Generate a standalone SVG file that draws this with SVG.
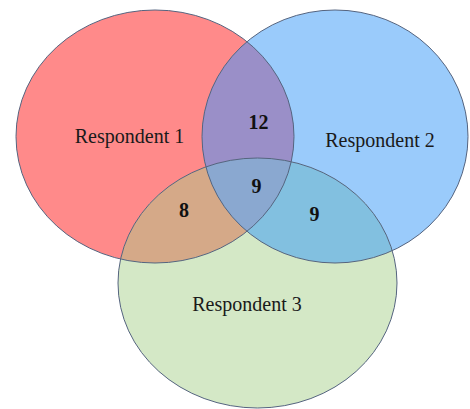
<svg xmlns="http://www.w3.org/2000/svg" xmlns:xlink="http://www.w3.org/1999/xlink" width="470" height="409" viewBox="0 0 470 409">
  <defs>
    <ellipse id="e1" cx="155" cy="136.5" rx="139" ry="126.5"/>
    <ellipse id="e2" cx="335" cy="136.5" rx="133" ry="126.5"/>
    <ellipse id="e3" cx="257.5" cy="283" rx="139.5" ry="125"/>
    <clipPath id="c1"><use xlink:href="#e1"/></clipPath>
    <clipPath id="c2"><use xlink:href="#e2"/></clipPath>
    <clipPath id="c12" clip-path="url(#c1)"><use xlink:href="#e2"/></clipPath>
  </defs>
  <style>
    .lbl { font-family: "Liberation Serif", "Times New Roman", serif; font-size: 20px; fill: #1a1a1a; text-anchor: middle; }
    .num { font-family: "Liberation Serif", "Times New Roman", serif; font-size: 20px; font-weight: bold; fill: #111; text-anchor: middle; }
    .edge { fill: none; stroke: #55647f; stroke-width: 1; }
  </style>
  <rect width="470" height="409" fill="#ffffff"/>
  <g id="fills">
    <use xlink:href="#e1" fill="#ff8a8a"/>
    <use xlink:href="#e2" fill="#9acbfb"/>
    <use xlink:href="#e3" fill="#d4e8c6"/>
    <use xlink:href="#e2" fill="#9a8fc8" clip-path="url(#c1)"/>
    <use xlink:href="#e3" fill="#d5a988" clip-path="url(#c1)"/>
    <use xlink:href="#e3" fill="#82c0e0" clip-path="url(#c2)"/>
    <use xlink:href="#e3" fill="#8aa8d0" clip-path="url(#c12)"/>
  </g>
  <g id="respondent1">
    <use xlink:href="#e1" class="edge"/>
    <text class="lbl" x="129.5" y="143">Respondent 1</text>
  </g>
  <g id="respondent2">
    <use xlink:href="#e2" class="edge"/>
    <text class="lbl" x="380" y="147">Respondent 2</text>
  </g>
  <g id="respondent3">
    <use xlink:href="#e3" class="edge"/>
    <text class="lbl" x="247" y="311">Respondent 3</text>
  </g>
  <g id="counts">
    <text class="num" x="258.5" y="129">12</text>
    <text class="num" x="256.5" y="193">9</text>
    <text class="num" x="184" y="217">8</text>
    <text class="num" x="314.5" y="221">9</text>
  </g>
</svg>
